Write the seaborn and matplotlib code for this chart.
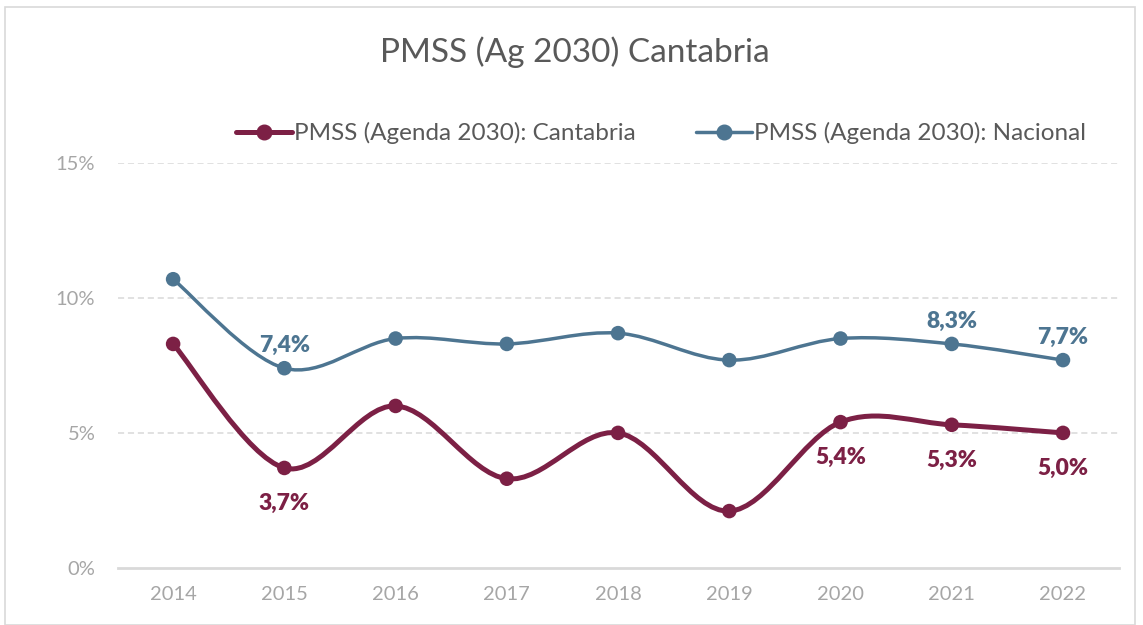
import numpy as np
import pandas as pd
import matplotlib
matplotlib.use("Agg")
import matplotlib.pyplot as plt
from matplotlib.path import Path
from matplotlib.patches import PathPatch, Rectangle
from matplotlib.lines import Line2D
import seaborn as sns

# ---- data ----
years = ["2014", "2015", "2016", "2017", "2018", "2019", "2020", "2021", "2022"]
cantabria = [8.3, 3.7, 6.0, 3.3, 5.0, 2.1, 5.4, 5.3, 5.0]
nacional = [10.7, 7.4, 8.5, 8.3, 8.7, 7.7, 8.5, 8.3, 7.7]
cantabria_labelled = ["2015", "2020", "2021", "2022"]
nacional_labelled = ["2015", "2021", "2022"]
series_names = ["PMSS (Agenda 2030): Cantabria", "PMSS (Agenda 2030): Nacional"]
title = "PMSS (Ag 2030) Cantabria"
y_ticks = [0, 5, 10, 15]

C_CANT = "#7C2045"
C_NAC = "#4D7591"
GRID = "#D9D9D9"
TICK = "#A6A6A6"
TXT = "#595959"

sns.set_theme(style="white")
plt.rcParams["font.family"] = ["Lato", "DejaVu Sans"]

fig = plt.figure(figsize=(11.43, 6.25), dpi=100)
ax = fig.add_axes([117.5 / 1143, 1 - 567.7 / 625, (1118.6 - 117.5) / 1143, (567.7 - 163.3) / 625])

df = pd.DataFrame({
    "year": years * 2,
    "value": cantabria + nacional,
    "series": [series_names[0]] * len(years) + [series_names[1]] * len(years),
})
df["x"] = df["year"].map({y: i for i, y in enumerate(years)})


def smooth_path(xs, ys):
    xs = np.asarray(xs, float)
    ys = np.asarray(ys, float)
    pts = np.column_stack([xs, ys])
    n = len(pts)
    verts = [pts[0]]
    codes = [Path.MOVETO]
    for i in range(n - 1):
        p0 = pts[max(i - 1, 0)]
        p1 = pts[i]
        p2 = pts[i + 1]
        p3 = pts[min(i + 2, n - 1)]
        c1 = p1 + (p2 - p0) / 6.0
        c2 = p2 - (p3 - p1) / 6.0
        verts += [c1, c2, p2]
        codes += [Path.CURVE4] * 3
    return Path(verts, codes)


styles = {series_names[0]: (C_CANT, 3.6), series_names[1]: (C_NAC, 2.5)}
for name, (col, lw) in styles.items():
    sub = df[df["series"] == name]
    ax.add_patch(PathPatch(smooth_path(sub["x"], sub["value"]), fill=False,
                           edgecolor=col, lw=lw, capstyle="round", zorder=3))

sns.scatterplot(data=df, x="x", y="value", hue="series",
                palette={series_names[0]: C_CANT, series_names[1]: C_NAC},
                s=110, edgecolor="none", legend=False, ax=ax, zorder=4)

# data labels
for yr, v in zip(years, nacional):
    if yr in nacional_labelled:
        ax.annotate(f"{v:.1f}%".replace(".", ","), (years.index(yr), v),
                    xytext=(0, 9), textcoords="offset points", ha="center", va="bottom",
                    color=C_NAC, fontsize=16.5, fontweight="heavy")
for yr, v in zip(years, cantabria):
    if yr in cantabria_labelled:
        ax.annotate(f"{v:.1f}%".replace(".", ","), (years.index(yr), v),
                    xytext=(0, -18), textcoords="offset points", ha="center", va="top",
                    color=C_CANT, fontsize=16.5, fontweight="heavy")

ax.set_xlim(-0.5, len(years) - 0.5)
ax.set_ylim(0, 15)
ax.set_xticks(range(len(years)))
ax.set_xticklabels(years)
ax.set_yticks(y_ticks)
ax.set_yticklabels([f"{t}%" for t in y_ticks])
ax.set_xlabel("")
ax.set_ylabel("")
ax.tick_params(axis="both", length=0, colors=TICK, labelsize=14.5)
ax.tick_params(axis="y", pad=16)
ax.tick_params(axis="x", pad=13)
for t in ax.get_xticklabels() + ax.get_yticklabels():
    t.set_color(TICK)

ax.grid(False)
for yv in y_ticks[1:]:
    ax.axhline(yv, color=GRID, lw=1.1, ls=(0, (4, 2.5)), zorder=1)
for s in ["top", "right", "left"]:
    ax.spines[s].set_visible(False)
ax.spines["bottom"].set_color(GRID)
ax.spines["bottom"].set_linewidth(2)
ax.patch.set_alpha(0)

# title
fig.text(575 / 1143, 1 - 52 / 625, title, ha="center", va="center",
         fontsize=24, color=TXT)

# legend
handles = [Line2D([0], [0], color=C_CANT, lw=3.6, marker="o", markersize=10.5),
           Line2D([0], [0], color=C_NAC, lw=2.5, marker="o", markersize=10.5)]
leg = fig.legend(handles, series_names, loc="center", bbox_to_anchor=(661 / 1143, 1 - 133 / 625),
                 ncol=2, frameon=False, fontsize=17.5, handlelength=2.3, handletextpad=0.1,
                 columnspacing=2.45, labelcolor=TXT)

# outer border
fig.patches.append(Rectangle((5 / 1143, 0.0), (1135 - 5) / 1143, 1 - 7 / 625 - 0.0,
                             transform=fig.transFigure, fill=False, edgecolor=GRID, lw=1.2))

fig.savefig("out.png", dpi=100, facecolor="white")
